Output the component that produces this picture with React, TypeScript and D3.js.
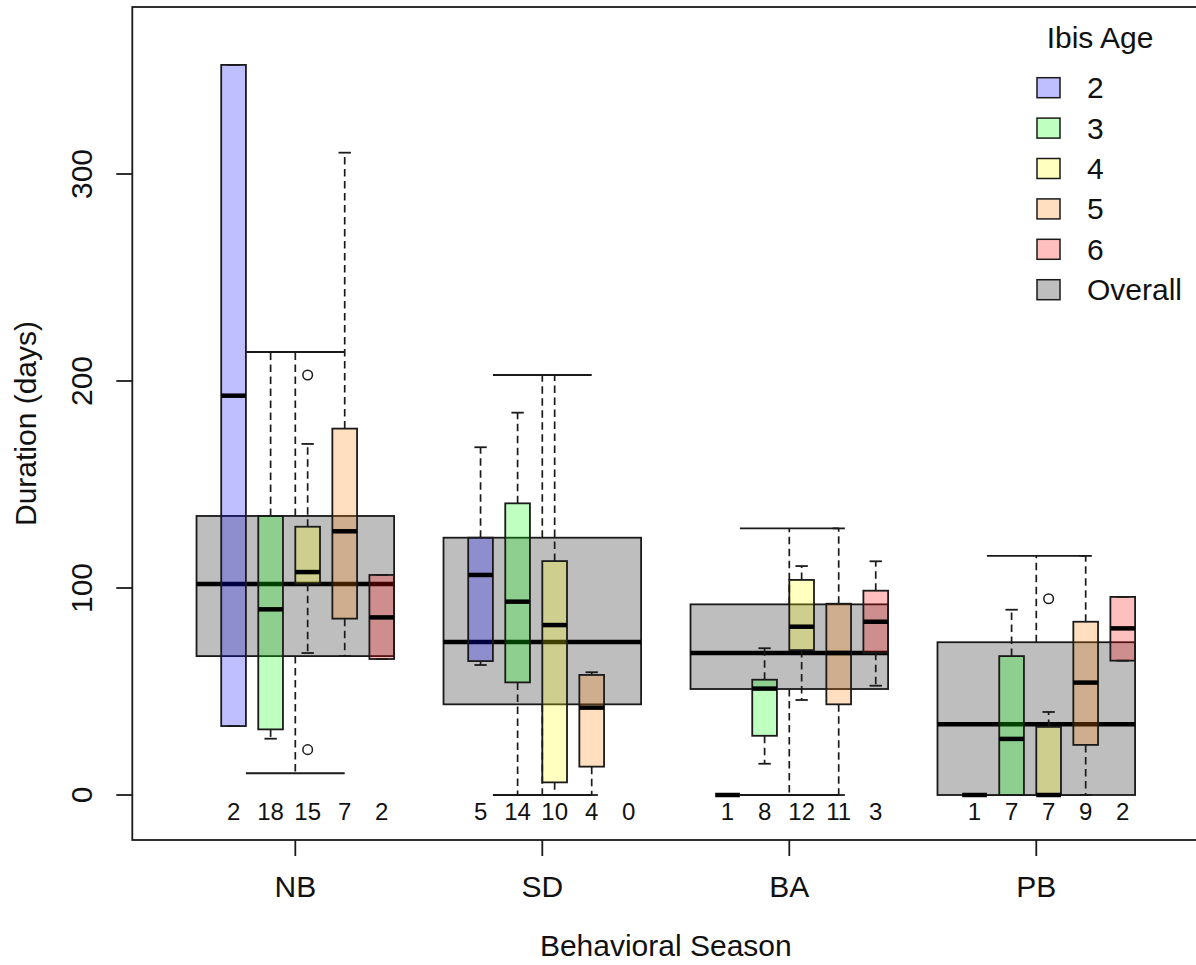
import * as d3 from 'd3'

// Durations (days) per behavioral season and ibis age
const seasons = ['NB', 'SD', 'BA', 'PB']
const ageLevels = ['2', '3', '4', '5', '6']
const counts = [
  [2, 18, 15, 7, 2],
  [5, 14, 10, 4, 0],
  [1, 8, 12, 11, 3],
  [1, 7, 7, 9, 2],
]
const ageLow = [
  [33.3, 27.2, 68.6, 67.1, 65.7],
  [62.8, 0, 0, 0, null],
  [0, 15.1, 45.9, 0, 52.8],
  [0, 0, 0, 0, 64.9],
]
const ageQ1 = [
  [33.3, 31.7, 102.1, 85.2, 65.7],
  [64.7, 54.4, 6.1, 13.7, null],
  [0, 28.6, 70.0, 43.8, 68.7],
  [0, 0, 0, 24.2, 64.9],
]
const ageMedian = [
  [192.9, 89.7, 107.7, 127.4, 85.8],
  [106.3, 93.4, 82.1, 42.2, null],
  [0, 51.4, 81.3, 68.6, 83.7],
  [0, 27.1, 0, 54.3, 80.5],
]
const ageQ3 = [
  [352.7, 134.8, 129.6, 177.0, 106.3],
  [124.3, 140.9, 113.0, 58.0, null],
  [0, 55.7, 103.9, 92.4, 98.7],
  [0, 67.1, 32.9, 83.7, 95.7],
]
const ageHigh = [
  [352.7, 214.0, 169.6, 310.3, 106.3],
  [168.0, 184.7, 202.9, 59.3, null],
  [0, 70.9, 110.6, 128.8, 112.9],
  [0, 89.5, 40.1, 115.5, 95.7],
]
const ageOutliers = [
  { season: 'NB', age: '4', value: 202.9 },
  { season: 'NB', age: '4', value: 21.9 },
  { season: 'PB', age: '4', value: 94.8 },
]
const overallLow = [10.5, 0, 0, 0]
const overallQ1 = [67.1, 43.8, 51.2, 0]
const overallMedian = [101.9, 73.9, 68.6, 34.2]
const overallQ3 = [134.8, 124.3, 92.1, 73.8]
const overallHigh = [214.0, 202.9, 128.8, 115.5]
const yTicks = [0, 100, 200, 300]

const ageColors = [
  'rgba(0,0,255,0.25)',
  'rgba(0,255,0,0.25)',
  'rgba(255,255,0,0.25)',
  'rgba(255,128,0,0.25)',
  'rgba(255,0,0,0.25)',
]
const overallColor = '#BEBEBE'
const legendFills = ['#BFBFFF', '#BFFFBF', '#FFFFBF', '#FFDFBF', '#FFBFBF', overallColor]
const legendLabels = [...ageLevels, 'Overall']

const W = 1196
const H = 965
const FONT = '"Liberation Sans", Arial, sans-serif'
const INK = '#1a1a1a'
const TXT = 30

// positions of the age boxes relative to each season (R "at" offsets)
const ageOffsets = [-0.25, -0.1, 0.05, 0.2, 0.35]

const x = d3.scaleLinear().domain([0.34, 4.66]).range([132.3, 1199.3])
const y = d3.scaleLinear().domain([0, 300]).range([795, 174])
const frameTop = 7
const frameBottom = 840

function Box({ cx, halfW, lo, q1, med, q3, hi, fill }) {
  const stapleHalf = halfW * 0.5
  return (
    <g>
      <line x1={cx} x2={cx} y1={y(q3)} y2={y(hi)} stroke={INK} strokeWidth={1.7} strokeDasharray="7.5,4.5" />
      <line x1={cx} x2={cx} y1={y(q1)} y2={y(lo)} stroke={INK} strokeWidth={1.7} strokeDasharray="7.5,4.5" />
      <line x1={cx - stapleHalf} x2={cx + stapleHalf} y1={y(hi)} y2={y(hi)} stroke={INK} strokeWidth={1.8} />
      <line x1={cx - stapleHalf} x2={cx + stapleHalf} y1={y(lo)} y2={y(lo)} stroke={INK} strokeWidth={1.8} />
      <rect x={cx - halfW} y={y(q3)} width={halfW * 2} height={y(q1) - y(q3)} fill={fill} stroke={INK} strokeWidth={1.8} />
      <line x1={cx - halfW} x2={cx + halfW} y1={y(med)} y2={y(med)} stroke="#000" strokeWidth={4.5} />
    </g>
  )
}

export default function App() {
  const unit = x(2) - x(1)
  const overallHalf = unit * 0.4
  const ageHalf = unit * 0.05

  return (
    <div style={{ position: 'absolute', left: 0, top: 0 }}>
      <svg width={W} height={H} style={{ display: 'block', background: '#fff' }} fontFamily={FONT}>
        {/* overall boxes */}
        {seasons.map((s, i) => (
          <Box
            key={'o' + s}
            cx={x(i + 1)}
            halfW={overallHalf}
            lo={overallLow[i]}
            q1={overallQ1[i]}
            med={overallMedian[i]}
            q3={overallQ3[i]}
            hi={overallHigh[i]}
            fill={overallColor}
          />
        ))}

        {/* per-age boxes */}
        {seasons.map((s, i) =>
          ageLevels.map((a, j) =>
            ageMedian[i][j] == null ? null : (
              <Box
                key={s + a}
                cx={x(i + 1 + ageOffsets[j])}
                halfW={ageHalf}
                lo={ageLow[i][j]}
                q1={ageQ1[i][j]}
                med={ageMedian[i][j]}
                q3={ageQ3[i][j]}
                hi={ageHigh[i][j]}
                fill={ageColors[j]}
              />
            )
          )
        )}

        {ageOutliers.map((o, k) => (
          <circle
            key={'out' + k}
            cx={x(seasons.indexOf(o.season) + 1 + ageOffsets[ageLevels.indexOf(o.age)])}
            cy={y(o.value)}
            r={4.8}
            fill="none"
            stroke={INK}
            strokeWidth={1.5}
          />
        ))}

        {/* sample sizes */}
        {seasons.map((s, i) =>
          ageLevels.map((a, j) => (
            <text
              key={'n' + s + a}
              x={x(i + 1 + ageOffsets[j])}
              y={820}
              textAnchor="middle"
              fontSize={24}
              fill="#111"
            >
              {counts[i][j]}
            </text>
          ))
        )}

        {/* frame */}
        <rect x={x(0.34)} y={frameTop} width={x(4.66) - x(0.34)} height={frameBottom - frameTop} fill="none" stroke={INK} strokeWidth={1.8} />

        {/* y axis */}
        {yTicks.map((t) => (
          <g key={'yt' + t}>
            <line x1={x(0.34) - 16} x2={x(0.34)} y1={y(t)} y2={y(t)} stroke={INK} strokeWidth={1.8} />
            <text
              transform={`translate(92,${y(t)}) rotate(-90)`}
              textAnchor="middle"
              fontSize={TXT}
              fill="#111"
            >
              {t}
            </text>
          </g>
        ))}
        <text
          transform={`translate(36,${(frameTop + frameBottom) / 2}) rotate(-90)`}
          textAnchor="middle"
          fontSize={TXT}
          fill="#111"
        >
          Duration (days)
        </text>

        {/* x axis */}
        {seasons.map((s, i) => (
          <g key={'xt' + s}>
            <line x1={x(i + 1)} x2={x(i + 1)} y1={frameBottom} y2={frameBottom + 16} stroke={INK} strokeWidth={1.8} />
            <text x={x(i + 1)} y={897} textAnchor="middle" fontSize={TXT} fill="#111">
              {s}
            </text>
          </g>
        ))}
        <text x={(x(0.34) + x(4.66)) / 2} y={956} textAnchor="middle" fontSize={TXT} fill="#111">
          Behavioral Season
        </text>

        {/* legend */}
        <text x={1100} y={48} textAnchor="middle" fontSize={TXT} fill="#111">
          Ibis Age
        </text>
        {legendLabels.map((lab, k) => {
          const cy = 87.7 + k * 40.4
          return (
            <g key={'lg' + lab}>
              <rect x={1037} y={cy - 10} width={23} height={20} fill={legendFills[k]} stroke={INK} strokeWidth={1.5} />
              <text x={1087} y={cy + 10.5} fontSize={TXT} fill="#111">
                {lab}
              </text>
            </g>
          )
        })}
      </svg>
    </div>
  )
}
